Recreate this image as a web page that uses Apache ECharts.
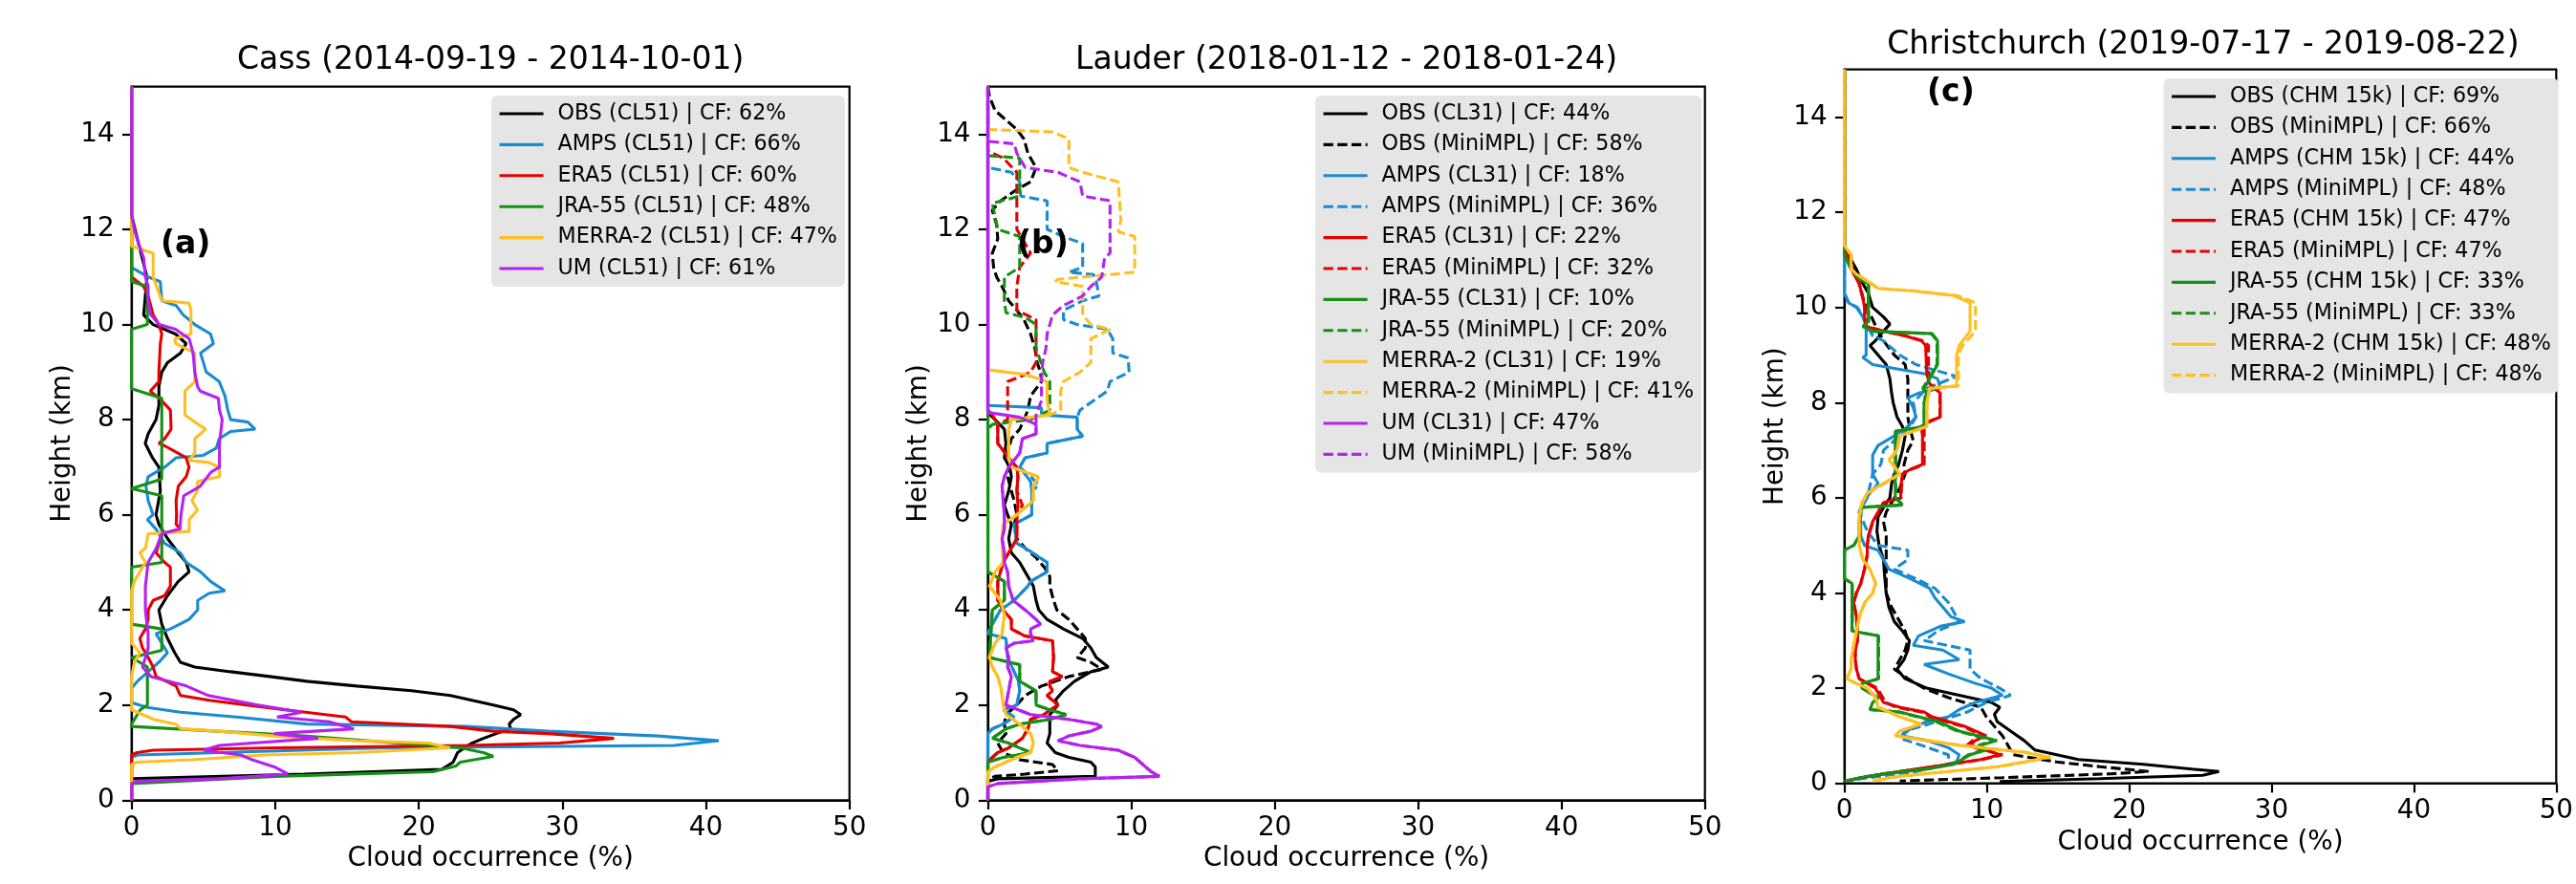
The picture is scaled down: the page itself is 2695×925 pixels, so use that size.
<!DOCTYPE html>
<html><head><meta charset="utf-8">
<script src="https://cdn.jsdelivr.net/npm/echarts@6/dist/echarts.min.js"></script>
<style>html,body{margin:0;padding:0;background:#fff}#c{width:2695px;height:925px}</style>
</head><body><div id="c"></div>
<script>
// ---------- DATA: each point is [cloud occurrence %, height km] ----------
const xTicks = [0, 10, 20, 30, 40, 50];
const yTicks = [0, 2, 4, 6, 8, 10, 12, 14];
const titles = ['Cass (2014-09-19 - 2014-10-01)', 'Lauder (2018-01-12 - 2018-01-24)', 'Christchurch (2019-07-17 - 2019-08-22)'];
const panelTags = ['(a)', '(b)', '(c)'];

// Panel (a) Cass
const cassNames = ['OBS (CL51) | CF: 62%', 'AMPS (CL51) | CF: 66%', 'ERA5 (CL51) | CF: 60%', 'JRA-55 (CL51) | CF: 48%', 'MERRA-2 (CL51) | CF: 47%', 'UM (CL51) | CF: 61%'];
const cassOBS = [[0,15],[0,12.3],[0.4,11.8],[1.07,11.0],[0.84,10.2],[1.5,10.0],[3.06,9.8],[3.8,9.6],[3.4,9.4],[2.5,9.2],[2.1,9.0],[1.9,8.7],[1.9,8.3],[1.7,8.0],[1.15,7.7],[0.95,7.5],[1.45,7.2],[1.9,7.0],[2.0,6.5],[1.7,6.0],[1.9,5.8],[2.5,5.5],[3.25,5.2],[3.8,5.0],[4.0,4.8],[3.25,4.6],[2.5,4.3],[1.9,4.0],[2.1,3.7],[2.5,3.4],[3.0,3.1],[3.4,2.9],[4.4,2.8],[6.9,2.7],[9.6,2.6],[12.2,2.5],[15.7,2.4],[19.5,2.3],[22.2,2.2],[23.7,2.1],[25.2,2.0],[26.6,1.9],[27.1,1.8],[26.6,1.7],[26.3,1.6],[26.4,1.5],[25.4,1.4],[24.5,1.3],[23.7,1.2],[22.7,1.0],[22.4,0.8],[21.6,0.65],[12,0.55],[0,0.45],[0,0]];
const cassAMPS = [[0,15],[0,11.2],[1.15,11.0],[2.0,10.9],[2.1,10.5],[3.1,10.4],[3.6,10.2],[4.4,10.0],[5.5,9.8],[5.7,9.6],[4.8,9.4],[5.0,9.2],[5.2,9.0],[6.1,8.8],[6.5,8.5],[6.7,8.2],[6.9,8.0],[8.1,7.95],[8.6,7.8],[6.9,7.75],[6.1,7.6],[5.9,7.4],[5.0,7.25],[3.1,7.2],[2.3,7.0],[1.15,6.8],[1.0,6.6],[1.15,6.3],[1.5,6.0],[1.1,5.9],[1.7,5.7],[2.3,5.4],[3.4,5.2],[3.8,5.0],[4.8,4.8],[5.5,4.6],[6.5,4.4],[5.4,4.35],[4.6,4.2],[4.6,4.0],[4.0,3.8],[2.7,3.6],[1.7,3.5],[2.1,3.3],[2.5,3.1],[1.9,2.9],[1.15,2.7],[0.4,2.5],[0,2.35],[0,2.05],[1.1,1.95],[3.4,1.85],[7.3,1.75],[12.2,1.6],[23.3,1.55],[29,1.45],[36.7,1.35],[40.9,1.25],[37.8,1.15],[17.6,1.1],[6.1,1.0],[0.4,0.95],[0,0.9],[0,0]];
const cassERA5 = [[0,15],[0,11.0],[0.2,10.95],[0.84,10.8],[1.15,10.6],[1.5,10.2],[1.9,10.0],[2.1,9.8],[2.0,9.6],[1.9,9.0],[1.9,8.8],[1.3,8.6],[2.1,8.4],[2.7,8.2],[2.75,7.8],[2.3,7.6],[1.9,7.5],[2.3,7.45],[3.8,7.2],[4.0,7.0],[3.8,6.8],[3.25,6.6],[3.1,6.3],[3.13,6.0],[3.1,5.8],[3.4,5.7],[2.1,5.6],[1.9,5.4],[1.7,5.2],[2.3,5.0],[2.7,4.9],[2.7,4.5],[2.3,4.3],[1.5,4.2],[1.15,4.0],[1.15,3.8],[0.96,3.6],[0.57,3.4],[0.76,3.2],[1.15,3.0],[1.5,2.8],[1.7,2.6],[3.1,2.4],[3.4,2.2],[5.4,2.1],[8.0,2.0],[10.7,1.9],[14.9,1.75],[15.3,1.65],[22.2,1.55],[25.2,1.45],[29,1.4],[33.6,1.3],[29.8,1.2],[23.3,1.15],[10,1.1],[1.5,1.05],[0.38,1.0],[0,0.95],[0,0]];
const cassJRA = [[0,15],[0,10.9],[1.1,10.8],[1.1,10.0],[0,9.9],[0,8.65],[2.1,8.45],[2.1,6.75],[0,6.55],[2.1,6.4],[2.1,5.0],[0,4.9],[0,3.7],[2.1,3.6],[2.1,3.15],[0,3.0],[1.1,2.8],[1.1,2.0],[0.6,1.9],[0,1.6],[0,1.55],[12,1.35],[22.9,1.1],[24.5,1.0],[25.2,0.92],[22.9,0.8],[22.6,0.72],[21.0,0.6],[10,0.5],[0,0.35],[0,0]];
const cassMERRA = [[0,15],[0,11.65],[1.5,11.5],[1.5,11.0],[2.1,10.5],[4.0,10.45],[4.13,10.3],[4.13,9.8],[3.0,9.7],[3.06,9.6],[4.4,9.4],[4.4,8.8],[3.71,8.6],[3.71,8.1],[4.4,7.95],[5.16,7.8],[4.4,7.6],[4.4,7.3],[4.01,7.15],[5.35,7.1],[6.12,7.0],[6.12,6.8],[4.59,6.7],[4.59,6.5],[4.2,6.3],[4.59,6.1],[4.01,5.9],[4.01,5.65],[1.15,5.6],[0.96,5.3],[0.57,5.2],[0.96,5.0],[0.57,4.8],[0.19,4.6],[0,4.4],[0,3.3],[0.57,3.1],[0.19,2.9],[0,2.6],[0,1.9],[0.76,1.8],[1.53,1.7],[3.06,1.6],[3.44,1.5],[6.12,1.45],[9.94,1.35],[15.67,1.25],[20.64,1.2],[22.17,1.1],[15.67,1.0],[9.17,0.95],[4.2,0.85],[0.38,0.8],[0,0.75],[0,0]];
const cassUM = [[0,15],[0,12.3],[0.19,12.0],[0.38,11.8],[0.84,11.4],[0.96,11.0],[1.15,10.8],[1.15,10.5],[1.34,10.2],[1.91,10.0],[3.06,9.9],[4.01,9.7],[4.28,9.4],[4.4,9.0],[4.59,8.7],[4.78,8.6],[6.04,8.45],[6.12,8.2],[6.31,8.0],[6.12,7.5],[6.12,7.0],[5.54,6.9],[4.78,6.6],[3.63,6.4],[3.44,6.0],[3.36,5.7],[2.1,5.6],[1.72,5.3],[1.15,5.0],[0.96,4.5],[0.96,4.0],[1.15,3.5],[1.15,3.2],[0.96,3.0],[0.76,2.8],[1.34,2.6],[3.82,2.4],[5.35,2.2],[8.79,2.0],[11.85,1.85],[10.13,1.75],[13.76,1.65],[15.48,1.5],[9.94,1.4],[13.0,1.3],[6.12,1.15],[5.0,1.05],[7.6,0.95],[8.4,0.85],[9.94,0.7],[10.89,0.55],[6.12,0.45],[0.38,0.4],[0,0.35],[0,0]];

// Panel (b) Lauder
const laudNames = ['OBS (CL31) | CF: 44%', 'OBS (MiniMPL) | CF: 58%', 'AMPS (CL31) | CF: 18%', 'AMPS (MiniMPL) | CF: 36%', 'ERA5 (CL31) | CF: 22%', 'ERA5 (MiniMPL) | CF: 32%', 'JRA-55 (CL31) | CF: 10%', 'JRA-55 (MiniMPL) | CF: 20%', 'MERRA-2 (CL31) | CF: 19%', 'MERRA-2 (MiniMPL) | CF: 41%', 'UM (CL31) | CF: 47%', 'UM (MiniMPL) | CF: 58%'];
const laudOBS = [[0,15],[0,8.15],[0.5,8.0],[1.15,7.8],[1.26,7.5],[1.15,7.2],[1.53,7.0],[1.64,6.8],[1.45,6.5],[1.15,6.2],[1.38,6.0],[1.64,5.8],[1.45,5.5],[1.64,5.2],[2.22,5.0],[2.6,4.8],[3.17,4.5],[3.36,4.2],[3.55,4.0],[4.13,3.8],[5.27,3.6],[6.61,3.4],[7.18,3.2],[7.56,3.0],[8.4,2.8],[7.18,2.7],[6.04,2.5],[5.27,2.3],[4.7,2.1],[4.89,2.0],[4.32,1.8],[4.32,1.6],[4.32,1.4],[4.13,1.2],[4.7,1.0],[5.65,0.9],[7.18,0.8],[7.49,0.7],[7.49,0.5],[0.69,0.45],[0,0.4],[0,0]];
const laudOBSm = [[0,15],[0.11,14.8],[0.5,14.5],[1.26,14.3],[2.02,14.1],[2.52,13.9],[2.79,13.6],[3.36,13.3],[2.98,13.0],[1.83,12.8],[0.88,12.6],[0.31,12.4],[0.61,12.1],[0.69,11.8],[0.31,11.5],[0.4,11.2],[0.61,11.0],[0.99,10.8],[1.45,10.5],[2.02,10.3],[2.52,10.1],[2.98,9.8],[3.28,9.5],[3.44,9.2],[3.67,9.0],[3.74,8.8],[2.98,8.5],[2.79,8.2],[2.52,8.0],[2.22,7.8],[1.64,7.6],[1.38,7.3],[1.45,7.0],[1.38,6.8],[1.64,6.5],[1.83,6.3],[2.02,6.0],[1.83,5.8],[2.02,5.5],[2.6,5.3],[3.36,5.1],[3.93,4.9],[4.32,4.7],[4.32,4.5],[4.58,4.2],[4.81,4.0],[5.65,3.8],[6.23,3.6],[6.8,3.4],[6.8,3.2],[6.23,3.0],[7.18,2.9],[7.94,2.75],[5.65,2.6],[3.74,2.4],[2.6,2.2],[2.02,2.0],[1.26,1.8],[1.15,1.6],[1.26,1.4],[0.69,1.2],[1.07,1.0],[2.22,0.85],[4.51,0.75],[4.89,0.62],[2.6,0.55],[0.5,0.5],[0,0.45],[0,0]];
const laudAMPS = [[0,15],[0,8.3],[3.74,8.25],[3.74,8.1],[6.23,8.05],[6.23,7.8],[6.61,7.65],[4.13,7.5],[4.13,7.3],[2.6,7.2],[2.22,7.0],[2.98,6.7],[3.06,6.5],[3.06,6.0],[1.83,5.8],[2.02,5.4],[2.6,5.3],[4.13,5.0],[4.13,4.8],[2.98,4.6],[2.79,4.5],[1.83,4.2],[0.88,4.0],[0.31,3.7],[0,3.5],[1.26,3.4],[1.38,3.0],[1.83,2.7],[2.14,2.5],[2.22,2.3],[2.02,2.0],[1.07,1.9],[1.83,1.75],[1.07,1.6],[0.31,1.5],[0,1.4],[0,0]];
const laudAMPSm = [[0,15],[0,13.3],[1.64,13.2],[2.22,13.0],[2.29,12.7],[4.13,12.6],[4.13,12.0],[5.27,11.85],[6.61,11.7],[6.61,11.2],[5.65,11.1],[7.37,11.05],[7.56,10.9],[7.75,10.6],[6.61,10.5],[5.27,10.3],[5.27,10.1],[6.23,10.0],[8.33,9.9],[8.71,9.7],[8.71,9.4],[9.78,9.3],[9.85,9.0],[8.52,8.8],[8.33,8.6],[7.37,8.4],[6.42,8.2],[6.23,8.05],[6.23,7.8],[6.61,7.65],[4.13,7.5],[4.13,7.3],[2.6,7.2],[2.22,7.0],[3.0,6.8],[3.55,6.62],[3.06,6.5],[3.06,6.0],[1.83,5.8],[2.02,5.4],[2.6,5.3],[4.13,5.0],[4.13,4.8],[2.98,4.6],[2.79,4.5],[1.83,4.2],[0.88,4.0],[0.31,3.7],[0,3.5],[1.26,3.4],[1.38,3.0],[1.83,2.7],[2.14,2.5],[2.22,2.3],[2.02,2.0],[1.07,1.9],[1.83,1.75],[1.07,1.6],[0.31,1.5],[0,1.4],[0,0]];
const laudERA5 = [[0,15],[0,8.2],[0.31,8.1],[0.69,7.9],[0.69,7.5],[1.45,7.2],[2.02,7.0],[2.1,6.8],[2.02,6.5],[2.1,6.2],[2.02,6.0],[2.02,5.8],[2.02,5.5],[1.45,5.2],[1.07,5.0],[0.69,4.6],[0.69,4.2],[1.07,4.0],[1.64,3.8],[1.64,3.6],[2.6,3.45],[4.51,3.35],[4.58,3.0],[4.51,2.7],[5.19,2.6],[4.32,2.5],[4.32,2.4],[4.51,2.3],[4.13,2.2],[4.51,2.1],[4.89,2.0],[4.32,1.9],[3.93,1.8],[2.98,1.7],[2.79,1.5],[2.41,1.3],[1.45,1.1],[0.69,1.0],[0.31,0.9],[0,0.8],[0,0]];
const laudERA5m = [[0,15],[0,13.65],[1.07,13.5],[2.02,13.2],[2.02,12.0],[2.98,11.5],[2.22,11.2],[2.02,10.8],[2.02,10.3],[3.36,10.1],[3.36,9.2],[2.98,9.0],[2.22,8.9],[1.38,8.8],[1.38,8.0],[0.69,7.9],[0.69,7.5],[1.45,7.2],[2.02,7.0],[2.1,6.8],[2.02,6.5],[2.41,6.2],[2.02,6.0],[2.02,5.8],[2.02,5.5],[1.45,5.2],[1.07,5.0],[0.69,4.6],[0.69,4.2],[1.07,4.0],[1.64,3.8],[1.64,3.6],[2.6,3.45],[4.51,3.35],[4.58,3.0],[4.51,2.7],[5.19,2.6],[4.32,2.5],[4.32,2.4],[4.51,2.3],[4.13,2.2],[4.51,2.1],[4.89,2.0],[4.32,1.9],[3.93,1.8],[2.98,1.7],[2.79,1.5],[2.41,1.3],[1.45,1.1],[0.69,1.0],[0.31,0.9],[0,0.8],[0,0]];
const laudJRA = [[0,15],[0,4.8],[1.15,4.6],[1.15,4.2],[0.31,4.0],[0.11,3.0],[2.22,2.85],[2.22,2.5],[3.36,2.3],[3.36,2.0],[4.32,1.9],[5.46,1.8],[4.32,1.7],[2.22,1.6],[1.26,1.5],[0.31,1.3],[1.45,1.2],[2.98,1.0],[1.07,0.9],[0,0.8],[0,0]];
const laudJRAm = [[0,15],[0,13.55],[2.22,13.5],[2.22,12.7],[0.31,12.55],[0.69,12.0],[2.22,11.85],[2.22,11.2],[1.15,11.0],[1.15,10.5],[1.26,10.25],[2.6,10.15],[3.36,10.0],[3.36,9.5],[3.93,9.0],[4.32,8.8],[4.32,8.2],[2.98,8.0],[0.31,7.9],[0,7.8],[0,4.8],[1.15,4.6],[1.15,4.2],[0.31,4.0],[0.11,3.0],[2.22,2.85],[2.22,2.5],[3.36,2.3],[3.36,2.0],[4.32,1.9],[5.46,1.8],[4.32,1.7],[2.22,1.6],[1.26,1.5],[0.31,1.3],[1.45,1.2],[2.98,1.0],[1.07,0.9],[0,0.8],[0,0]];
const laudMERRA = [[0,15],[0,9.05],[1.26,9.0],[2.6,8.95],[4.13,8.8],[4.13,8.4],[4.32,8.1],[1.64,8.0],[1.45,7.8],[1.45,7.2],[1.64,7.0],[2.6,6.9],[3.55,6.8],[3.17,6.6],[3.17,6.3],[2.02,6.0],[1.07,5.8],[0.99,5.5],[1.07,5.0],[0.5,4.8],[0.11,4.5],[0.88,4.2],[1.15,3.9],[0.99,3.5],[0.5,3.3],[0.11,3.0],[0.31,2.8],[0.69,2.6],[0.88,2.4],[0.99,2.2],[1.07,2.0],[1.26,1.8],[2.22,1.6],[2.98,1.4],[3.17,1.2],[2.98,1.0],[2.02,0.9],[0.5,0.7],[0,0.6],[0,0]];
const laudMERRAm = [[0,15],[0,14.1],[4.51,14.05],[5.65,13.9],[5.65,13.3],[6.61,13.2],[9.09,13.0],[9.28,12.2],[9.09,11.95],[10.24,11.85],[10.24,11.1],[4.89,10.95],[4.7,10.9],[6.61,10.8],[6.61,10.2],[7.18,10.0],[8.52,9.9],[7.18,9.7],[7.18,9.2],[6.42,9.0],[5.27,8.8],[5.08,8.6],[5.08,8.2],[4.32,8.1],[1.64,8.0],[1.45,7.8],[1.45,7.2],[1.64,7.0],[2.6,6.9],[3.55,6.8],[3.17,6.6],[3.17,6.3],[2.02,6.0],[1.07,5.8],[0.99,5.5],[1.07,5.0],[0.5,4.8],[0.11,4.5],[0.88,4.2],[1.15,3.9],[0.99,3.5],[0.5,3.3],[0.11,3.0],[0.31,2.8],[0.69,2.6],[0.88,2.4],[0.99,2.2],[1.07,2.0],[1.26,1.8],[2.22,1.6],[2.98,1.4],[3.17,1.2],[2.98,1.0],[2.02,0.9],[0.5,0.7],[0,0.6],[0,0]];
const laudUM = [[0,15],[0,8.15],[1.15,8.1],[2.22,8.05],[3.36,7.9],[3.36,7.7],[2.41,7.6],[2.22,7.3],[1.45,7.0],[1.15,6.8],[0.99,6.6],[1.07,6.3],[1.15,6.0],[1.15,5.7],[0.99,5.5],[1.15,5.2],[1.15,5.0],[1.38,4.8],[1.45,4.5],[1.76,4.2],[2.6,4.0],[3.36,3.8],[3.67,3.7],[2.98,3.6],[2.98,3.5],[3.17,3.35],[1.83,3.3],[1.26,3.2],[1.45,3.0],[1.38,2.8],[1.64,2.6],[1.45,2.3],[1.26,2.0],[2.98,1.8],[5.65,1.7],[7.56,1.6],[7.94,1.55],[7.18,1.45],[5.65,1.35],[4.89,1.25],[6.42,1.15],[9.09,1.05],[10.24,0.9],[10.81,0.75],[11.38,0.6],[11.96,0.5],[6.42,0.45],[0.69,0.35],[0,0.28],[0,0]];
const laudUMm = [[0,15],[0,13.85],[1.83,13.8],[2.02,13.6],[2.6,13.3],[4.89,13.2],[6.42,13.0],[6.61,12.7],[8.52,12.6],[8.52,11.5],[8.14,11.4],[7.94,11.0],[7.18,10.8],[6.61,10.6],[5.27,10.4],[4.51,10.2],[4.32,10.0],[4.13,9.8],[4.05,9.5],[3.82,9.2],[3.74,8.8],[3.74,8.4],[3.36,8.1],[3.36,7.9],[3.36,7.7],[2.41,7.6],[2.22,7.3],[1.45,7.0],[1.15,6.8],[0.99,6.6],[1.07,6.3],[1.15,6.0],[1.15,5.7],[0.99,5.5],[1.15,5.2],[1.15,5.0],[1.38,4.8],[1.45,4.5],[1.76,4.2],[2.6,4.0],[3.36,3.8],[3.67,3.7],[2.98,3.6],[2.98,3.5],[3.17,3.35],[1.83,3.3],[1.26,3.2],[1.45,3.0],[1.38,2.8],[1.64,2.6],[1.45,2.3],[1.26,2.0],[2.98,1.8],[5.65,1.7],[7.56,1.6],[7.94,1.55],[7.18,1.45],[5.65,1.35],[4.89,1.25],[6.42,1.15],[9.09,1.05],[10.24,0.9],[10.81,0.75],[11.38,0.6],[11.96,0.5],[6.42,0.45],[0.69,0.35],[0,0.28],[0,0]];

// Panel (c) Christchurch
const chchNames = ['OBS (CHM 15k) | CF: 69%', 'OBS (MiniMPL) | CF: 66%', 'AMPS (CHM 15k) | CF: 44%', 'AMPS (MiniMPL) | CF: 48%', 'ERA5 (CHM 15k) | CF: 47%', 'ERA5 (MiniMPL) | CF: 47%', 'JRA-55 (CHM 15k) | CF: 33%', 'JRA-55 (MiniMPL) | CF: 33%', 'MERRA-2 (CHM 15k) | CF: 48%', 'MERRA-2 (MiniMPL) | CF: 48%'];
const chchOBS = [[0,15],[0,11.2],[0.46,11.0],[0.84,10.8],[1.29,10.5],[1.67,10.3],[1.98,10.0],[2.74,9.8],[3.19,9.65],[2.74,9.5],[2.17,9.3],[1.79,9.2],[2.36,9.0],[2.93,8.8],[3.19,8.5],[3.31,8.2],[3.42,8.0],[3.69,7.7],[4.07,7.5],[4.26,7.3],[4.07,7.0],[3.8,6.7],[3.5,6.5],[3.31,6.3],[3.19,6.0],[2.74,5.8],[2.36,5.6],[2.28,5.3],[2.43,5.0],[2.74,4.7],[2.81,4.4],[2.93,4.0],[3.12,3.7],[3.5,3.4],[4.07,3.2],[4.56,3.0],[4.45,2.8],[4.18,2.6],[3.69,2.4],[4.26,2.2],[5.78,2.0],[7.3,1.9],[8.82,1.8],[10.34,1.7],[10.91,1.6],[10.53,1.45],[10.72,1.3],[11.67,1.1],[12.62,0.9],[13.38,0.7],[16.43,0.5],[20.99,0.4],[24.41,0.3],[26.31,0.25],[25.17,0.17],[17.95,0.1],[10.91,0.04]];
const chchOBSm = [[0,15],[0,11.1],[0.65,10.8],[1.03,10.5],[1.29,10.2],[1.52,10.0],[1.9,9.8],[2.36,9.5],[2.74,9.3],[3.5,9.0],[4.26,8.8],[4.45,8.5],[4.45,8.2],[4.45,8.0],[4.45,7.7],[4.56,7.5],[4.83,7.2],[4.45,7.0],[4.18,6.7],[4.26,6.5],[3.88,6.2],[3.5,6.0],[2.93,5.7],[2.74,5.5],[2.93,5.2],[2.93,5.0],[2.93,4.7],[2.93,4.3],[2.93,4.0],[3.31,3.7],[3.88,3.4],[4.26,3.2],[4.45,3.0],[4.26,2.8],[3.88,2.6],[3.5,2.4],[4.45,2.2],[5.59,2.0],[7.3,1.8],[9.58,1.6],[9.96,1.4],[10.53,1.2],[11.1,1.0],[11.48,0.8],[11.86,0.6],[14.9,0.45],[17.95,0.35],[21.37,0.25],[18.71,0.2],[11.1,0.12],[3.88,0.05]];
const chchAMPS = [[0,15],[0,10.3],[0.27,10.1],[0.84,10.0],[1.29,9.8],[1.52,9.6],[1.52,9.4],[1.52,9.0],[1.29,8.95],[1.98,8.8],[5.78,8.6],[6.54,8.5],[6.73,8.3],[5.21,8.2],[4.45,8.1],[4.83,7.9],[5.02,7.7],[4.45,7.5],[3.5,7.3],[2.36,7.1],[1.98,6.9],[1.98,6.5],[2.36,6.3],[1.79,6.1],[1.29,5.9],[1.03,5.7],[1.14,5.5],[1.14,5.2],[1.41,5.0],[2.36,4.9],[2.74,4.7],[3.12,4.5],[4.64,4.3],[5.97,4.1],[6.35,3.9],[6.92,3.7],[7.49,3.5],[8.44,3.4],[6.73,3.3],[5.21,3.1],[4.83,2.9],[6.92,2.8],[8.06,2.6],[5.59,2.5],[7.3,2.3],[9.2,2.1],[10.34,2.0],[11.1,1.85],[9.2,1.7],[8.06,1.55],[7.3,1.4],[5.78,1.3],[4.64,1.15],[4.07,1.0],[5.78,0.9],[7.3,0.75],[8.06,0.6],[7.87,0.45],[6.54,0.35],[4.26,0.25],[1.6,0.15],[0.15,0.05]];
const chchAMPSm = [[0,15],[0,10.3],[0.3,10.1],[0.9,10.0],[1.35,9.8],[1.6,9.6],[2.0,9.4],[2.74,9.3],[3.88,9.0],[5.02,8.8],[7.87,8.55],[5.78,8.3],[4.83,8.0],[5.02,7.7],[4.64,7.5],[2.74,7.0],[2.55,6.7],[1.98,6.5],[1.6,6.0],[1.03,5.7],[1.6,5.3],[2.36,5.0],[4.45,4.9],[4.45,4.7],[3.5,4.5],[5.02,4.3],[6.35,4.1],[7.3,3.8],[7.68,3.6],[8.06,3.4],[6.54,3.2],[5.59,3.0],[8.82,2.8],[8.82,2.6],[8.82,2.4],[9.58,2.2],[10.91,2.0],[11.67,1.85],[9.96,1.7],[8.63,1.5],[6.54,1.3],[4.26,1.1],[3.88,0.95],[5.4,0.8],[7.3,0.6],[7.3,0.4],[5.02,0.25],[1.22,0.1],[0.15,0.05]];
const chchERA5 = [[0,15],[0,11.3],[0.27,11.0],[0.65,10.7],[1.03,10.5],[1.29,10.2],[1.41,10.0],[1.41,9.8],[1.52,9.6],[2.74,9.5],[4.26,9.4],[5.4,9.3],[5.7,9.2],[5.78,8.6],[5.97,8.4],[6.73,8.2],[6.73,7.7],[5.97,7.6],[5.4,7.5],[5.48,7.3],[5.48,7.0],[5.48,6.7],[4.64,6.6],[4.07,6.5],[3.95,6.2],[3.95,6.0],[2.74,5.9],[2.36,5.7],[1.98,5.5],[1.67,5.2],[1.6,5.0],[1.6,4.8],[1.41,4.5],[1.14,4.2],[0.84,4.0],[0.65,3.8],[0.84,3.5],[0.91,3.2],[0.91,3.0],[0.76,2.8],[0.76,2.6],[0.84,2.4],[1.03,2.2],[1.6,2.1],[2.17,2.0],[2.36,1.9],[2.74,1.7],[3.88,1.6],[5.59,1.5],[6.16,1.4],[7.3,1.3],[8.44,1.2],[9.2,1.1],[9.96,1.0],[9.2,0.9],[8.82,0.8],[9.96,0.7],[10.91,0.6],[9.58,0.5],[7.3,0.4],[5.02,0.3],[2.74,0.2],[0.84,0.1],[0.15,0.05]];
const chchERA5m = [[0,15],[0,11.3],[0.3,11.0],[0.7,10.7],[1.05,10.5],[1.3,10.2],[1.45,10.0],[1.45,9.8],[1.55,9.6],[2.8,9.5],[4.3,9.4],[5.5,9.3],[5.9,9.2],[5.9,8.6],[6.0,8.4],[6.7,8.2],[6.7,7.7],[5.9,7.6],[5.6,7.5],[5.6,7.3],[5.6,7.0],[5.6,6.7],[4.7,6.6],[4.1,6.5],[4.0,6.2],[4.0,6.0],[2.8,5.9],[2.4,5.7],[2.0,5.5],[1.7,5.2],[1.6,5.0],[1.6,4.8],[1.4,4.5],[1.14,4.2],[0.84,4.0],[0.65,3.8],[0.84,3.5],[0.91,3.2],[0.91,3.0],[0.76,2.8],[0.76,2.6],[0.84,2.4],[1.03,2.2],[1.7,2.1],[2.3,2.0],[2.5,1.9],[2.9,1.7],[3.6,1.6],[5.4,1.5],[6.0,1.4],[7.1,1.3],[8.3,1.2],[9.0,1.1],[9.7,1.0],[9.0,0.9],[8.6,0.8],[9.8,0.7],[11.1,0.6],[9.7,0.5],[7.4,0.4],[5.1,0.3],[2.8,0.2],[0.84,0.1],[0.15,0.05]];
const chchJRA = [[0,15],[0,11.1],[0.46,10.8],[1.03,10.6],[1.67,10.5],[1.67,9.7],[1.29,9.6],[1.98,9.5],[6.16,9.45],[6.54,9.3],[6.54,8.8],[5.97,8.5],[5.59,8.3],[5.78,8.2],[5.59,8.0],[5.59,7.5],[3.57,7.4],[3.57,6.0],[4.07,5.85],[1.22,5.8],[1.03,5.5],[1.03,5.2],[0.65,5.0],[0,4.9],[0,4.3],[0.53,4.2],[0.53,3.2],[2.36,3.1],[2.36,2.2],[1.22,2.1],[1.22,2.0],[2.36,1.8],[1.98,1.7],[1.79,1.55],[3.88,1.5],[6.54,1.3],[8.06,1.1],[10.72,0.9],[9.58,0.8],[9.96,0.7],[8.82,0.6],[7.68,0.4],[5.78,0.3],[2.74,0.2],[0.84,0.1],[0,0.05]];
const chchJRAm = [[0,15],[0,11.1],[0.5,10.8],[1.05,10.6],[1.7,10.5],[1.7,9.7],[1.3,9.6],[2.0,9.5],[6.1,9.45],[6.5,9.3],[6.5,8.8],[5.9,8.5],[5.5,8.3],[5.7,8.2],[5.6,8.0],[5.6,7.5],[3.6,7.4],[3.6,6.0],[4.1,5.85],[1.25,5.8],[1.05,5.5],[1.05,5.2],[0.65,5.0],[0,4.9],[0,4.3],[0.55,4.2],[0.55,3.2],[2.4,3.1],[2.4,2.2],[1.25,2.1],[1.25,2.0],[2.4,1.8],[2.0,1.7],[1.8,1.55],[3.8,1.5],[6.4,1.3],[7.9,1.1],[10.5,0.9],[9.4,0.8],[9.8,0.7],[8.7,0.6],[7.6,0.4],[5.7,0.3],[2.7,0.2],[0.84,0.1],[0,0.05]];
const chchMERRA = [[0,15],[0,11.3],[0.46,11.1],[0.46,10.8],[0.84,10.7],[2.36,10.4],[4.64,10.35],[7.68,10.25],[8.82,10.1],[8.82,9.5],[8.06,9.2],[7.87,9.0],[7.87,8.35],[5.97,8.3],[5.78,8.0],[5.78,7.5],[3.88,7.3],[3.69,7.0],[3.12,6.8],[3.88,6.5],[2.74,6.3],[1.6,6.1],[1.22,5.9],[1.03,5.6],[1.03,5.0],[1.29,4.7],[1.79,4.5],[2.17,4.2],[1.98,4.0],[1.41,3.8],[1.03,3.5],[0.84,3.2],[0.65,2.9],[0.46,2.6],[0.46,2.4],[0.15,2.2],[0.84,2.1],[1.6,2.0],[2.17,1.8],[2.36,1.6],[3.88,1.4],[5.4,1.25],[3.88,1.1],[3.57,1.0],[5.78,0.9],[8.06,0.8],[12.62,0.65],[14.33,0.55],[12.62,0.45],[10.72,0.35],[7.3,0.25],[3.88,0.15],[1.98,0.05]];
const chchMERRAm = [[0,15],[0,11.3],[0.5,11.1],[0.5,10.8],[0.9,10.7],[2.4,10.4],[4.8,10.35],[7.9,10.25],[9.2,10.1],[9.2,9.5],[8.3,9.2],[8.0,9.0],[8.0,8.35],[6.0,8.3],[5.8,8.0],[5.8,7.5],[3.9,7.3],[3.7,7.0],[3.2,6.8],[3.9,6.5],[2.8,6.3],[1.65,6.1],[1.25,5.9],[1.05,5.6],[1.05,5.0],[1.3,4.7],[1.8,4.5],[2.2,4.2],[2.0,4.0],[1.45,3.8],[1.05,3.5],[0.85,3.2],[0.65,2.9],[0.46,2.6],[0.46,2.4],[0.15,2.2],[0.84,2.1],[1.6,2.0],[2.2,1.8],[2.4,1.6],[3.9,1.4],[5.3,1.25],[3.9,1.1],[3.6,1.0],[5.9,0.9],[8.2,0.8],[12.8,0.65],[14.5,0.55],[12.8,0.45],[10.8,0.35],[7.4,0.25],[3.9,0.15],[1.98,0.05]];

// ---------- STYLE ----------
const FONT = 'DejaVu Sans';
const C = { obs: '#000000', amps: '#1a8bd1', era5: '#e50000', jra: '#159015', merra: '#ffbf22', um: '#b422f0' };
const DASH = [10.3, 4.4];
const LW = 3.1;

const panels = [
  { names: cassNames, data: [cassOBS, cassAMPS, cassERA5, cassJRA, cassMERRA, cassUM],
    colors: [C.obs, C.amps, C.era5, C.jra, C.merra, C.um], dashed: [0,0,0,0,0,0],
    grid: { left: 137.7, top: 90.7, width: 751, height: 746.6 }, legend: { left: 514, top: 100 },
    titleY: 47, tag: { x: 168, y: 259 } },
  { names: laudNames, data: [laudOBS, laudOBSm, laudAMPS, laudAMPSm, laudERA5, laudERA5m, laudJRA, laudJRAm, laudMERRA, laudMERRAm, laudUM, laudUMm],
    colors: [C.obs, C.obs, C.amps, C.amps, C.era5, C.era5, C.jra, C.jra, C.merra, C.merra, C.um, C.um], dashed: [0,1,0,1,0,1,0,1,0,1,0,1],
    grid: { left: 1033.5, top: 90.7, width: 750.2, height: 746.6 }, legend: { left: 1376, top: 100 },
    titleY: 47, tag: { x: 1064, y: 259 } },
  { names: chchNames, data: [chchOBS, chchOBSm, chchAMPS, chchAMPSm, chchERA5, chchERA5m, chchJRA, chchJRAm, chchMERRA, chchMERRAm],
    colors: [C.obs, C.obs, C.amps, C.amps, C.era5, C.era5, C.jra, C.jra, C.merra, C.merra], dashed: [0,1,0,1,0,1,0,1,0,1],
    grid: { left: 1929.7, top: 72.7, width: 750.6, height: 747 }, legend: { left: 2263.5, top: 82 },
    titleY: 31, tag: { x: 2016, y: 100 } }
];

const grid = [], xAxis = [], yAxis = [], series = [], legend = [], title = [], graphic = [];
const axisLine = { show: true, onZero: false, lineStyle: { color: '#000', width: 2.2 } };
const axisTick = { show: true, inside: false, length: 9.7, lineStyle: { color: '#000', width: 2.2 } };

panels.forEach((p, i) => {
  grid.push(Object.assign({ show: true, borderColor: '#000', borderWidth: 2.2, backgroundColor: 'transparent', containLabel: false }, p.grid));
  xAxis.push({ type: 'value', gridIndex: i, min: 0, max: 50, interval: 10,
    axisLine, axisTick: Object.assign({ customValues: xTicks }, axisTick),
    axisLabel: { customValues: xTicks, color: '#000', fontFamily: FONT, fontSize: 27.8, margin: 15 },
    splitLine: { show: false },
    name: 'Cloud occurrence (%)', nameLocation: 'middle', nameGap: 47,
    nameTextStyle: { color: '#000', fontFamily: FONT, fontSize: 27.8 } });
  yAxis.push({ type: 'value', gridIndex: i, min: 0, max: 15, interval: 2,
    axisLine, axisTick: Object.assign({ customValues: yTicks }, axisTick),
    axisLabel: { customValues: yTicks, color: '#000', fontFamily: FONT, fontSize: 27.8, margin: 18 },
    splitLine: { show: false },
    name: 'Height (km)', nameLocation: 'middle', nameGap: 58, nameRotate: 90,
    nameTextStyle: { color: '#000', fontFamily: FONT, fontSize: 27.8 } });
  p.names.forEach((n, k) => {
    series.push({ type: 'line', name: n, data: p.data[k], xAxisIndex: i, yAxisIndex: i,
      symbol: 'none', showSymbol: false, animation: false, clip: true,
      lineStyle: { color: p.colors[k], width: LW, type: p.dashed[k] ? DASH : 'solid', cap: 'butt' },
      itemStyle: { color: p.colors[k] } });
  });
  legend.push({ data: p.names, orient: 'vertical', left: p.legend.left, top: p.legend.top,
    itemWidth: 46, itemHeight: 14, itemGap: 10.4, padding: [8, 8, 8, 7],
    backgroundColor: '#e5e5e5', borderRadius: 6, selectedMode: false,
    itemStyle: { opacity: 0, borderWidth: 0 },
    lineStyle: { width: LW },
    textStyle: { color: '#000', fontFamily: FONT, fontSize: 22.2, lineHeight: 22, padding: [0, 0, 0, 10] } });
  title.push({ text: titles[i], left: p.grid.left + p.grid.width / 2, top: p.titleY, textAlign: 'center', padding: 0,
    textStyle: { color: '#000', fontFamily: FONT, fontSize: 33, fontWeight: 'normal' } });
  graphic.push({ type: 'text', left: p.tag.x, top: p.tag.y - 19, z: 100,
    style: { text: panelTags[i], fill: '#000', font: 'bold 33px "DejaVu Sans"' } });
});

const chart = echarts.init(document.getElementById('c'), null, { renderer: 'canvas' });
chart.setOption({ backgroundColor: '#fff', animation: false, grid, xAxis, yAxis, series, legend, title, graphic });
</script></body></html>
